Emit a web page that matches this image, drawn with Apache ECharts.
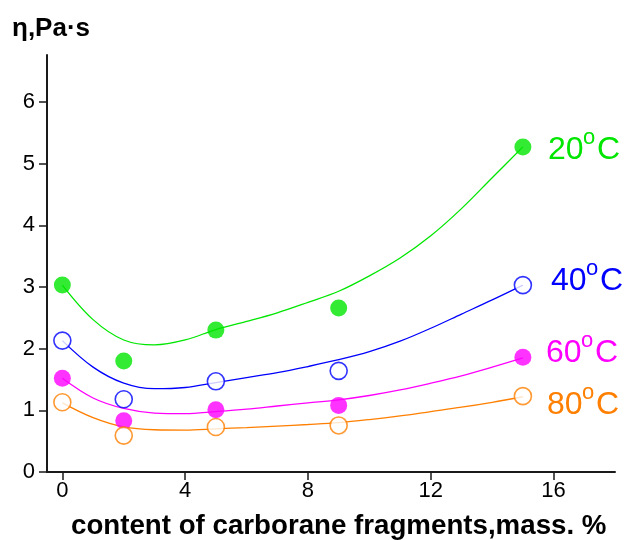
<!DOCTYPE html>
<html><head><meta charset="utf-8">
<script src="https://cdn.jsdelivr.net/npm/echarts@6/dist/echarts.min.js"></script>
<style>html,body{margin:0;padding:0;background:#fff}#c{width:625px;height:540px}</style>
</head><body><div id="c"></div>
<script>
// Measured points
const contentX = [0, 2, 5, 9, 15];
const eta20 = [3.03, 1.80, 2.30, 2.66, 5.27];
const eta40 = [2.13, 1.18, 1.47, 1.64, 3.03];
const eta60 = [1.52, 0.83, 1.01, 1.08, 1.86];
const eta80 = [1.13, 0.59, 0.73, 0.755, 1.23];

// Fitted curves
const fitX = [0, 1, 2, 3, 4, 5, 6, 7, 8, 9, 10, 11, 12, 13, 14, 15];
const fit20 = [3.03, 2.47, 2.14, 2.06, 2.14, 2.31, 2.44, 2.58, 2.75, 2.93, 3.18, 3.47, 3.83, 4.27, 4.77, 5.27];
const fit40 = [2.13, 1.70, 1.44, 1.35, 1.37, 1.45, 1.53, 1.61, 1.71, 1.82, 1.95, 2.12, 2.33, 2.56, 2.79, 3.03];
const fit60 = [1.52, 1.20, 1.03, 0.955, 0.945, 0.98, 1.02, 1.07, 1.12, 1.17, 1.24, 1.33, 1.44, 1.56, 1.70, 1.85];
const fit80 = [1.12, 0.88, 0.73, 0.685, 0.68, 0.70, 0.72, 0.745, 0.77, 0.80, 0.85, 0.91, 0.98, 1.05, 1.13, 1.22];

const xTicks = [0, 4, 8, 12, 16];
const seriesNames = ['20', '40', '60', '80'];

const colors = ['#00e600', '#0000ff', '#ff00ff', '#ff7f00'];
const filled = [true, false, true, false];
const pts = [eta20, eta40, eta60, eta80];
const fits = [fit20, fit40, fit60, fit80];
// [left, baseline] of each temperature label
const labelPos = [[548, 160], [551, 291], [546, 363], [547, 415]];

const zip = (xs, ys) => xs.map((x, i) => [x, ys[i]]);
const series = [];
for (let k = 0; k < 4; k++) {
  series.push({
    type: 'line', data: zip(fitX, fits[k]), smooth: 0.35, showSymbol: false, silent: true,
    lineStyle: { color: colors[k], width: 1.3 }, z: 2
  });
}
for (let k = 0; k < 4; k++) {
  series.push({
    type: 'scatter', data: zip(contentX, pts[k]), symbol: 'circle', symbolSize: 17,
    itemStyle: filled[k] ? { color: colors[k] } : { color: '#fff', borderColor: colors[k], borderWidth: 1.6 },
    z: 3
  });
}
const F = '"Liberation Sans", Arial, sans-serif';
const graphic = [];
for (let k = 0; k < 4; k++) {
  const L = labelPos[k][0], B = labelPos[k][1];
  graphic.push({ type: 'text', left: L, top: B - 26, style: { text: seriesNames[k], fill: colors[k], font: '32px ' + F } });
  graphic.push({ type: 'text', left: L + 35, top: B - 33, style: { text: 'o', fill: colors[k], font: '22px ' + F } });
  graphic.push({ type: 'text', left: L + 49, top: B - 26, style: { text: 'C', fill: colors[k], font: '32px ' + F } });
}
graphic.push({ type: 'text', left: 12, top: 16, style: { text: 'η,Pa·s', fill: '#000', font: 'bold 26px ' + F } });
graphic.push({ type: 'text', left: 71, top: 512, style: { text: 'content of carborane fragments,mass. %', fill: '#000', font: 'bold 27.7px ' + F } });

const chart = echarts.init(document.getElementById('c'), null, { renderer: 'canvas' });
chart.setOption({
  animation: false,
  backgroundColor: '#fff',
  grid: { left: 47, right: 10, top: 55, bottom: 68, containLabel: false },
  xAxis: {
    type: 'value', min: -0.5, max: 18,
    splitLine: { show: false },
    axisLine: { onZero: false, lineStyle: { color: '#1a1a1a', width: 2 } },
    axisTick: { customValues: xTicks, length: 8, lineStyle: { color: '#1a1a1a', width: 1.5 } },
    axisLabel: { customValues: xTicks, color: '#000', fontSize: 22, fontFamily: F, margin: 8 }
  },
  yAxis: {
    type: 'value', min: 0, max: 6.76, interval: 1,
    splitLine: { show: false },
    axisLine: { show: true, onZero: false, lineStyle: { color: '#1a1a1a', width: 2 } },
    axisTick: { show: true, length: 8, lineStyle: { color: '#1a1a1a', width: 1.5 } },
    axisLabel: { color: '#000', fontSize: 22, fontFamily: F, margin: 12, showMaxLabel: false }
  },
  series: series,
  graphic: graphic
});
</script></body></html>
